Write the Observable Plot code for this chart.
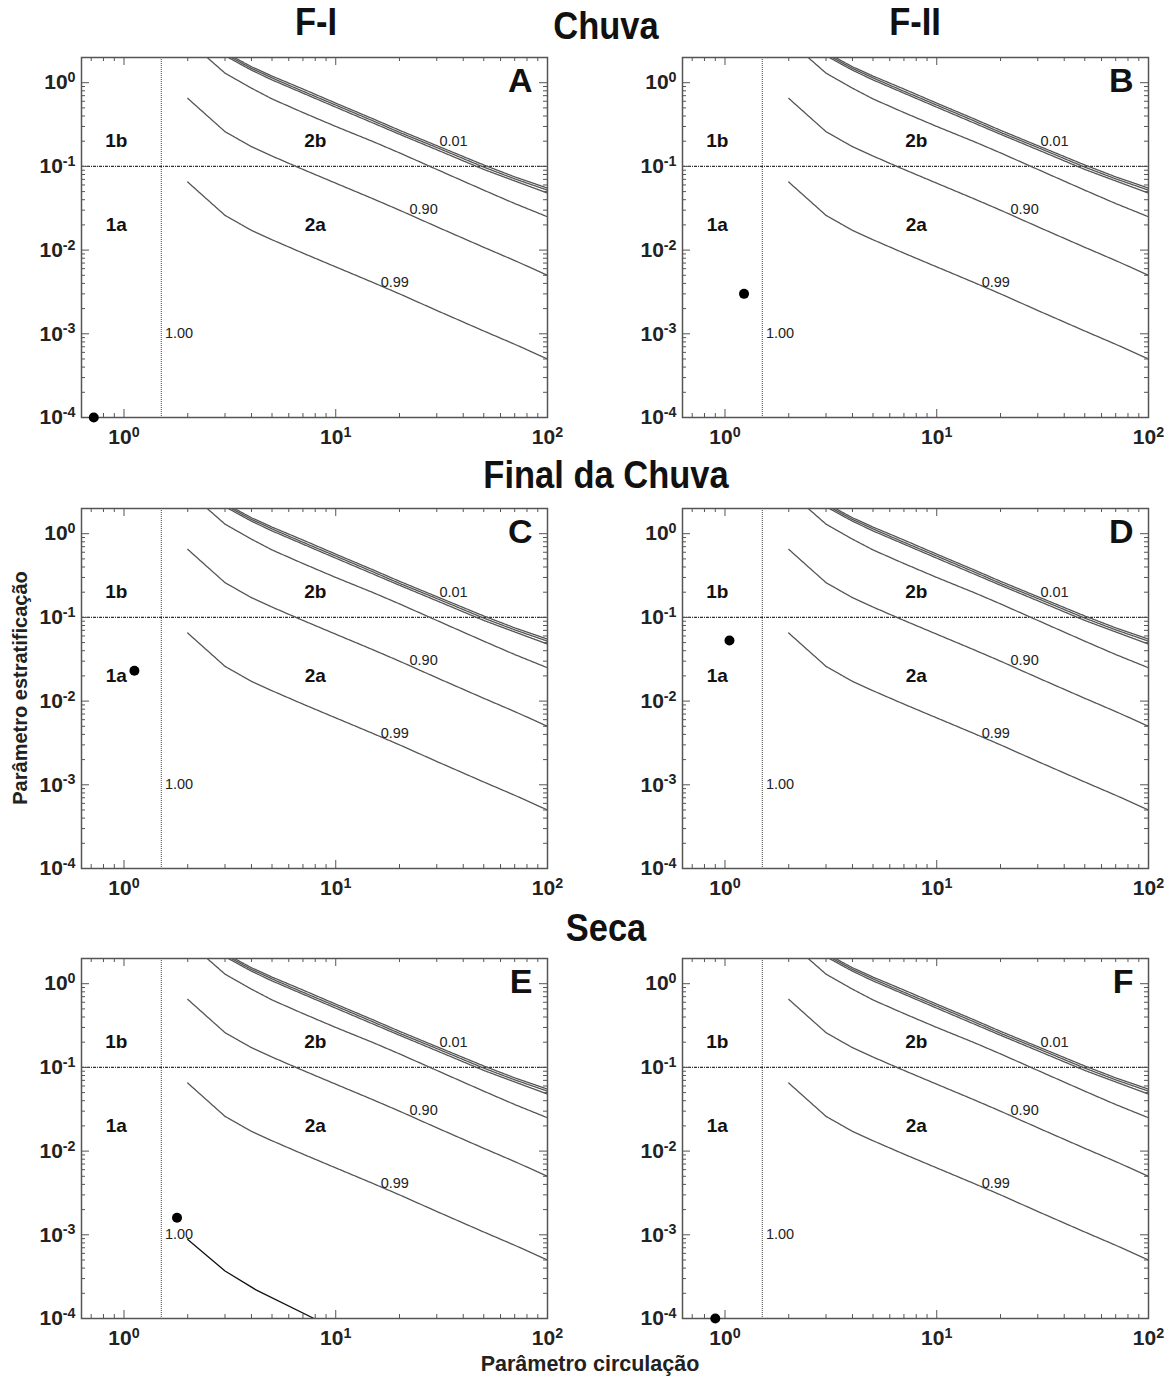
<!DOCTYPE html>
<html><head><meta charset="utf-8">
<script src="https://cdn.jsdelivr.net/npm/d3@7"></script>
<script src="https://cdn.jsdelivr.net/npm/@observablehq/plot@0.6"></script>
<style>
body{margin:0;background:#fff;}
#wrap{position:relative;width:1175px;height:1378px;font-family:"Liberation Sans",Arial,sans-serif;overflow:hidden}
.title{position:absolute;font-weight:bold;font-size:34.5px;transform:translate(-50%,-50%) scaleY(1.1);white-space:nowrap;color:#111}
.axlab{position:absolute;font-weight:bold;font-size:20px;white-space:nowrap;color:#222}
.panel{position:absolute}
.panel svg{max-width:none !important}
</style></head><body><div id="wrap"></div>
<script>
// ---- data ----
const panelIds = ["A","B","C","D","E","F"];
const pointX = [0.72, 1.23, 1.12, 1.05, 1.78, 0.90];
const pointY = [1e-4, 0.003, 0.023, 0.053, 0.0016, 1e-4];

const xMajor = [1, 10, 100];
const xMinor = [0.7,0.8,0.9,2,3,4,5,6,7,8,9,20,30,40,50,60,70,80,90];
const yMajor = [1e-4, 1e-3, 1e-2, 1e-1, 1];
const yMinor = [2e-4,3e-4,4e-4,5e-4,6e-4,7e-4,8e-4,9e-4,
                2e-3,3e-3,4e-3,5e-3,6e-3,7e-3,8e-3,9e-3,
                0.02,0.03,0.04,0.05,0.06,0.07,0.08,0.09,
                0.2,0.3,0.4,0.5,0.6,0.7,0.8,0.9];

const curveX   = [2, 3, 4, 5, 7, 10, 15, 20, 30, 50, 70, 100];
const nu099Y   = [0.065, 0.026, 0.0172, 0.0133, 0.0092, 0.0063, 0.0041, 0.003, 0.0019, 0.00108, 0.00075, 0.0005];
const nu090Y   = [0.65, 0.26, 0.172, 0.133, 0.092, 0.063, 0.041, 0.03, 0.019, 0.0108, 0.0075, 0.005];
const nuMidY   = [3.2, 1.3, 0.86, 0.64, 0.44, 0.30, 0.198, 0.145, 0.092, 0.052, 0.036, 0.025];
const groupX   = [3, 4, 5, 7, 10, 15, 20, 30, 50, 70, 100];
const nu001aY  = [2.3, 1.55, 1.2, 0.84, 0.57, 0.37, 0.27, 0.177, 0.104, 0.075, 0.055];
const nu001bY  = [2.2, 1.48, 1.14, 0.79, 0.54, 0.35, 0.255, 0.168, 0.098, 0.071, 0.052];
const nu001cY  = [2.1, 1.41, 1.08, 0.75, 0.51, 0.33, 0.242, 0.158, 0.092, 0.067, 0.048];
const nu100EX  = [2, 3, 4.2, 7.9];
const nu100EY  = [0.00088, 0.00037, 0.00022, 0.0001];

const boundaryX = 1.5;
const boundaryY = 0.1;

const regionText = ["1b","1a","2b","2a"];
const regionX = [0.92, 0.92, 8, 8];
const regionY = [0.2, 0.02, 0.2, 0.02];

const contourText = ["0.01","0.90","0.99","1.00"];
const contourX = [36, 26, 19, 1.82];
const contourY = [0.2, 0.031, 0.0041, 0.001];

const colTitles = ["F-I","F-II"];
const rowTitles = ["Chuva","Final da Chuva","Seca"];

// ---- layout ----
const W = 466, H = 360, ML = 75, MT = 17, MR = 45, MB = 45;
const frameLefts = [81, 682];
const frameTops = [57, 507.5, 958];
const wrap = document.getElementById("wrap");

function toPts(xs, ys){ return xs.map((x,i)=>({x, y: ys[i]})); }

function makePanel(i){
  const col = i % 2, row = Math.floor(i/2);
  const lineStyle = {x:"x", y:"y", stroke:"#555", strokeWidth:1.3, strokeDasharray:"1.2,0.6", clip:true};
  const curves = [toPts(curveX, nu099Y), toPts(curveX, nu090Y), toPts(curveX, nuMidY),
                  toPts(groupX, nu001aY), toPts(groupX, nu001bY), toPts(groupX, nu001cY)];
  const tickStroke = "#555";
  const marks = [
    Plot.ruleX([boundaryX], {stroke:"#444", strokeWidth:1, strokeDasharray:"1,1"}),
    Plot.ruleY([boundaryY], {stroke:"#333", strokeWidth:1.3, strokeDasharray:"3,1,1,1"}),
    ...curves.map(c => Plot.line(c, lineStyle)),
    ...(panelIds[i]==="E" ? [Plot.line(toPts(nu100EX, nu100EY), {x:"x", y:"y", stroke:"#111", strokeWidth:1.3, clip:true})] : []),
    // inward ticks on four sides
    Plot.ruleX(xMajor, {x:d=>d, insetTop:H-8, stroke:tickStroke}),
    Plot.ruleX(xMajor, {x:d=>d, insetBottom:H-8, stroke:tickStroke}),
    Plot.ruleX(xMinor, {x:d=>d, insetTop:H-4, stroke:tickStroke}),
    Plot.ruleX(xMinor, {x:d=>d, insetBottom:H-4, stroke:tickStroke}),
    Plot.ruleY(yMajor, {y:d=>d, insetRight:W-8, stroke:tickStroke}),
    Plot.ruleY(yMajor, {y:d=>d, insetLeft:W-8, stroke:tickStroke}),
    Plot.ruleY(yMinor, {y:d=>d, insetRight:W-4, stroke:tickStroke}),
    Plot.ruleY(yMinor, {y:d=>d, insetLeft:W-4, stroke:tickStroke}),
    Plot.frame({stroke:"#555", strokeWidth:1.5}),
    Plot.axisX({ticks:xMajor, tickSize:0, tickPadding:12, fontSize:21, fontWeight:"bold", fill:"#222", label:null,
                tickFormat:d=>String(Math.round(Math.log10(d)))}),
    Plot.axisY({ticks:yMajor, tickSize:0, tickPadding:6, fontSize:21, fontWeight:"bold", fill:"#222", label:null,
                tickFormat:d=>String(Math.round(Math.log10(d)))}),
    Plot.text(regionText.map((t,k)=>({t, x:regionX[k], y:regionY[k]})), {x:"x", y:"y", text:"t", fontSize:19, fontWeight:"bold", fill:"#111"}),
    Plot.text(contourText.map((t,k)=>({t, x:contourX[k], y:contourY[k]})), {x:"x", y:"y", text:"t", fontSize:14.5, fill:"#222"}),
    Plot.text([panelIds[i]], {frameAnchor:"top-right", textAnchor:"end", lineAnchor:"middle", dx:-15, dy:24, fontSize:34, fontWeight:"bold", fill:"#111"}),
    Plot.dot([{x:pointX[i], y:pointY[i]}], {x:"x", y:"y", r:5, fill:"#000", stroke:"none"})
  ];
  const svg = Plot.plot({
    width: W+ML+MR, height: H+MT+MB,
    marginLeft: ML, marginTop: MT, marginRight: MR, marginBottom: MB,
    x: {type:"log", domain:[0.63, 100], axis:null},
    y: {type:"log", domain:[1e-4, 2], axis:null},
    style: {fontFamily:"Liberation Sans, Arial, sans-serif", background:"transparent", overflow:"visible", maxWidth:"none"},
    marks
  });
  svg.style.maxWidth = "none";
  // superscript exponents on tick labels
  svg.querySelectorAll('g[aria-label$="tick label"] text').forEach(t => {
    const e = t.textContent.replace("−","-");
    t.textContent = "";
    const a = document.createElementNS("http://www.w3.org/2000/svg","tspan");
    a.textContent = "10";
    const b = document.createElementNS("http://www.w3.org/2000/svg","tspan");
    b.textContent = e;
    b.setAttribute("dy","-0.5em");
    b.setAttribute("font-size","0.68em");
    t.appendChild(a); t.appendChild(b);
  });
  const div = document.createElement("div");
  div.className = "panel";
  div.style.left = (frameLefts[col]-ML)+"px";
  div.style.top = (frameTops[row]-MT)+"px";
  div.style.width = (W+ML+MR)+"px";
  div.appendChild(svg);
  wrap.appendChild(div);
}
for (let i=0;i<6;i++) makePanel(i);

function addTitle(text, x, y){
  const d = document.createElement("div");
  d.className = "title"; d.textContent = text;
  d.style.left = x+"px"; d.style.top = y+"px";
  wrap.appendChild(d);
}
addTitle(colTitles[0], 316, 22);
addTitle(colTitles[1], 915, 22);
addTitle(rowTitles[0], 606, 26);
addTitle(rowTitles[1], 606, 475);
addTitle(rowTitles[2], 606, 928);

const yl = document.createElement("div");
yl.className = "axlab"; yl.textContent = "Parâmetro estratificação";
yl.style.fontSize = "20px";
yl.style.left = "20px"; yl.style.top = "688px";
yl.style.transform = "translate(-50%,-50%) rotate(-90deg)";
wrap.appendChild(yl);
const xl = document.createElement("div");
xl.className = "axlab"; xl.textContent = "Parâmetro circulação";
xl.style.fontSize = "21.5px";
xl.style.left = "590px"; xl.style.top = "1364px";
xl.style.transform = "translate(-50%,-50%)";
wrap.appendChild(xl);
</script></body></html>
